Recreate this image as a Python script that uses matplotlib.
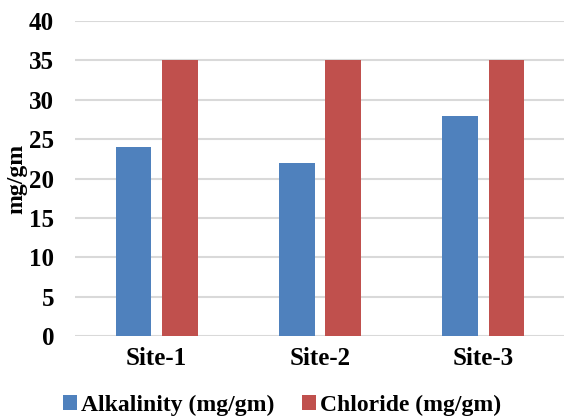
import matplotlib
matplotlib.use('Agg')
import matplotlib.pyplot as plt
import numpy as np

sites = ['Site-1', 'Site-2', 'Site-3']
alkalinity = [24, 22, 28]
chloride = [35, 35, 35]
series_names = ['Alkalinity (mg/gm)', 'Chloride (mg/gm)']
y_ticks = [0, 5, 10, 15, 20, 25, 30, 35, 40]

plt.rcParams['font.family'] = ['Liberation Serif', 'DejaVu Serif']
plt.rcParams['font.weight'] = 'bold'
plt.rcParams['font.size'] = 18


def main():
    fig = plt.figure(figsize=(5.64, 4.16), dpi=100)
    ax = fig.add_axes([75 / 564, 1 - 336 / 416, 490 / 564, 315 / 416])

    x = np.arange(len(sites))
    w = 0.22
    ax.bar(x - 0.142, alkalinity, w, color='#4F81BD', label=series_names[0], zorder=3)
    ax.bar(x + 0.142, chloride, w, color='#C0504D', label=series_names[1], zorder=3)

    ax.set_xlim(-0.5, 2.5)
    ax.set_ylim(0, 40)
    ax.set_yticks(y_ticks)
    ax.set_xticks(x)
    ax.set_xticklabels(sites)
    ax.yaxis.grid(True, color='#D9D9D9', linewidth=1.5, zorder=0)
    for s in ax.spines.values():
        s.set_visible(False)
    ax.tick_params(axis='both', length=0)
    ax.tick_params(axis='x', pad=8)
    ax.tick_params(axis='y', pad=15)
    ax.set_ylabel('mg/gm', fontsize=17, fontweight='bold')
    ax.yaxis.set_label_coords(-0.098, 0.5)

    fig.legend(loc='center', bbox_to_anchor=(0.5, 1 - 405 / 416), ncol=2,
               frameon=False, handlelength=0.6, handleheight=0.6,
               handletextpad=0.15, columnspacing=1.2,
               prop={'size': 17, 'weight': 'bold'})

    fig.savefig('out.png', dpi=100)


if __name__ == '__main__':
    main()
